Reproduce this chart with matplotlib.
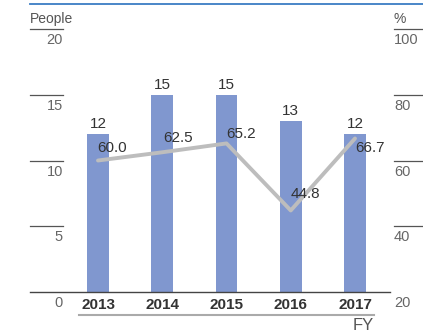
import matplotlib.pyplot as plt
from matplotlib.lines import Line2D

plt.rcParams['font.family'] = ['Liberation Sans', 'DejaVu Sans']

years = ['2013', '2014', '2015', '2016', '2017']
people = [12, 15, 15, 13, 12]
ratio = [60.0, 62.5, 65.2, 44.8, 66.7]
left_ticks = [0, 5, 10, 15, 20]
right_ticks = [20, 40, 60, 80, 100]

# label offsets for the ratio values (pixels)
ratio_off = [(-1, 13), (1, 14), (0, 9), (0, 16), (0, -10)]

W, H = 423, 336
fig = plt.figure(figsize=(W / 100, H / 100), dpi=100)

# pixel layout helpers
y0, y20 = 292, 29
x_first, step = 98, 64.25
ax = fig.add_axes([0, 1 - y0 / H, 1, (y0 - y20) / H])
ax.set_xlim((0 - x_first) / step, (W - x_first) / step)
ax.set_ylim(0, 20)
ax.axis('off')
ax2 = ax.twinx()
ax2.set_ylim(20, 100)
ax2.axis('off')

def px(x):
    return (x - x_first) / step

xs = list(range(len(years)))
bars = ax.bar(xs, people, width=0.34, color='#8097CF', zorder=2)
for x, v in zip(xs, people):
    ax.annotate(str(v), (x, v), xytext=(0, 3), textcoords='offset pixels',
                ha='center', va='bottom', fontsize=11, color='#333333')

ax2.plot(xs, ratio, color='#BDBDBD', lw=2.8, zorder=3, solid_capstyle='round')
for x, v, (dx, dy) in zip(xs, ratio, ratio_off):
    ax2.annotate(f'{v:.1f}', (x, v), xytext=(dx, dy), textcoords='offset pixels',
                 ha='left', va='center', fontsize=11, color='#333333', zorder=4)

# left scale
for t in left_ticks:
    if t > 0:
        ax.plot([px(30), px(63)], [t, t], color='#555555', lw=0.9, clip_on=False)
    ax.annotate(str(t), (px(63), t), xytext=(0, -4), textcoords='offset pixels',
                ha='right', va='top', fontsize=10.5, color='#666666')
ax.annotate('People', (px(30), 20), xytext=(0, 3), textcoords='offset pixels',
            ha='left', va='bottom', fontsize=10, color='#555555')

# right scale
for t in right_ticks:
    if t > 20:
        ax2.plot([px(394), px(423)], [t, t], color='#555555', lw=0.9, clip_on=False)
    ax2.annotate(str(t), (px(394), t), xytext=(0, -4), textcoords='offset pixels',
                 ha='left', va='top', fontsize=10.5, color='#666666')
ax2.annotate('%', (px(394), 100), xytext=(0, 3), textcoords='offset pixels',
             ha='left', va='bottom', fontsize=10, color='#555555')

# baseline and year labels
ax.plot([px(30), px(390)], [0, 0], color='#444444', lw=1.0, clip_on=False)
for x, yr in zip(xs, years):
    ax.annotate(yr, (x, 0), xytext=(0, -6), textcoords='offset pixels',
                ha='center', va='top', fontsize=11, fontweight='bold', color='#333333')

fig.add_artist(Line2D([79 / W, 374 / W], [1 - 315 / H, 1 - 315 / H],
                      color='#AAAAAA', lw=1.5))
fig.text(374 / W, 1 - 325 / H, 'FY', ha='right', va='center', fontsize=12, color='#555555')

# top rule
fig.add_artist(Line2D([30 / W, 1], [1 - 4 / H, 1 - 4 / H], color='#3C7DC4', lw=1.3))

fig.savefig('out.png', dpi=100, facecolor='white')
